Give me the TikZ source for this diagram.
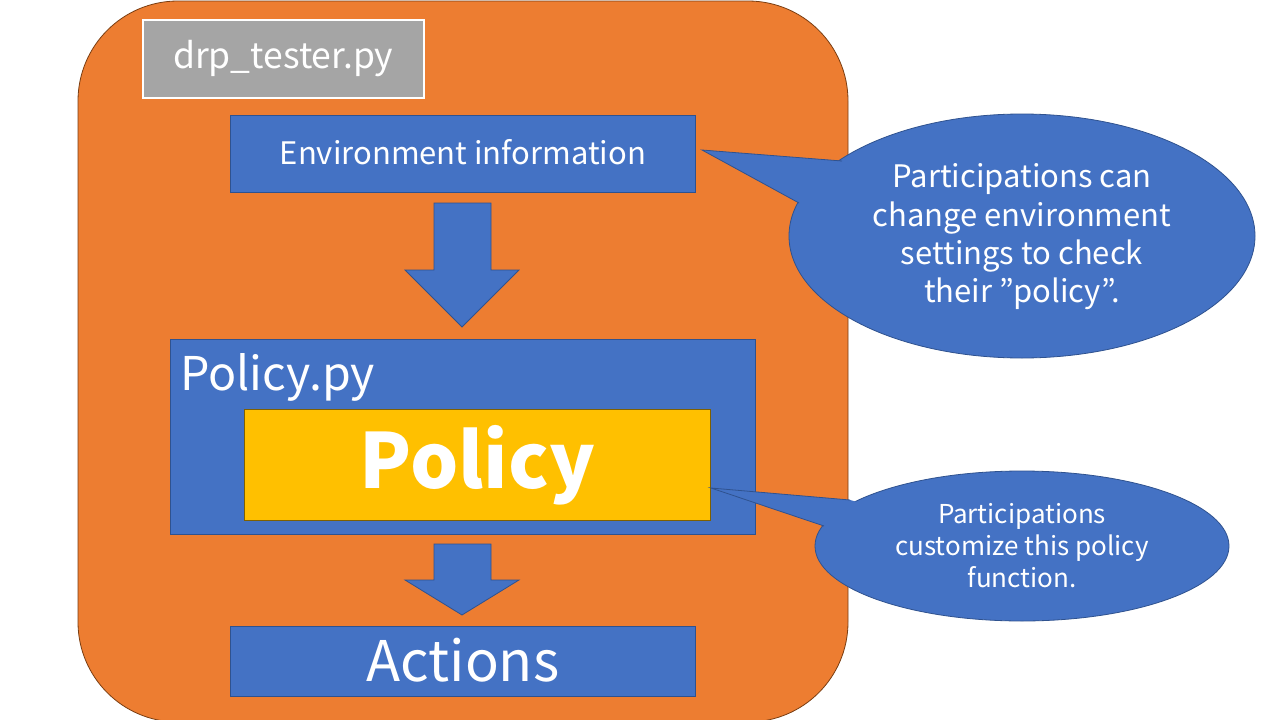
\documentclass[tikz,border=0pt]{standalone}
\usepackage{fontspec}
\setmainfont{Noto Sans CJK JP}
\definecolor{orng}{HTML}{ED7D31}
\definecolor{orngline}{HTML}{7A3E12}
\definecolor{blu}{HTML}{4472C4}
\definecolor{bluline}{HTML}{2F528F}
\definecolor{gld}{HTML}{FFC000}
\definecolor{gldline}{HTML}{7F6000}
\definecolor{gry}{HTML}{A5A5A5}
\tikzset{
  bluebox/.style={draw=bluline, fill=blu, line width=0.8pt, inner sep=0pt, text=white},
  arrowblk/.style={draw=bluline, fill=blu, line width=0.8pt},
  callout/.style={draw=bluline, fill=blu, line width=0.8pt},
}
\begin{document}
\begin{tikzpicture}[x=1pt,y=-1pt]
\useasboundingbox (0,0) rectangle (1280,720);
\fill[white] (0,0) rectangle (1280,720);
% outer frame
\draw[fill=orng, draw=orngline, line width=0.8pt, rounded corners=100pt] (78,1) rectangle (848,722);
% title box
\node[draw=white, fill=gry, line width=1.5pt, minimum width=281pt, minimum height=78pt, inner sep=0pt, anchor=north west, text=white, font=\fontsize{35.5}{40}\selectfont] (tester) at (142,19) {drp\_tester.py};
% environment info
\node[bluebox, minimum width=465pt, minimum height=77pt, anchor=north west, font=\fontsize{31}{36}\selectfont] (env) at (230,115) {\raisebox{3pt}{Environment information}};
% arrow 1
\draw[arrowblk] (434,203) -- (491,203) -- (491,270) -- (519,270) -- (462,327) -- (405,270) -- (434,270) -- cycle;
% policy.py
\node[bluebox, minimum width=585pt, minimum height=195pt, anchor=north west] (polpy) at (170,339) {};
\node[anchor=west, text=white, font=\fontsize{46.5}{50}\selectfont, inner sep=0pt] (polpylabel) at (180,377) {Policy.py};
\node[draw=gldline, fill=gld, line width=0.8pt, minimum width=466pt, minimum height=111pt, inner sep=0pt, anchor=north west, text=white, font=\fontsize{76}{90}\bfseries\selectfont] (pol) at (244,409) {Policy};
% arrow 2
\draw[arrowblk] (434,544) -- (491,544) -- (491,580) -- (519,580) -- (462,615) -- (405,580) -- (434,580) -- cycle;
% actions
\node[bluebox, minimum width=465pt, minimum height=70pt, anchor=north west, font=\fontsize{56}{60}\selectfont] (act) at (230,626) {\raisebox{3pt}{Actions}};
% callout 1
\coordinate (t1) at (702,150);
\coordinate (b1a) at (842,161);
\coordinate (b1b) at (799,203);
\draw[callout] (1022,236) ellipse [x radius=233pt, y radius=122pt];
\fill[blu] (t1) -- (b1a) -- (1022,236) -- (b1b) -- cycle;
\draw[bluline, line width=0.8pt, line join=miter] (b1a) -- (t1) -- (b1b);
\node[align=center, text=white, font=\fontsize{31}{38.3}\selectfont] (c1) at (1022,237) {Participations can\\change environment\\settings to check\\their ”policy”.};
% callout 2
\coordinate (t2) at (711,488);
\coordinate (b2a) at (850,500);
\coordinate (b2b) at (824,526);
\draw[callout] (1022,546) ellipse [x radius=207pt, y radius=75pt];
\fill[blu] (t2) -- (b2a) -- (1022,546) -- (b2b) -- cycle;
\draw[bluline, line width=0.8pt, line join=miter] (b2a) -- (t2) -- (b2b);
\node[align=center, text=white, font=\fontsize{26}{32}\selectfont] (c2) at (1022,546) {Participations\\customize this policy\\function.};
\end{tikzpicture}
\end{document}
